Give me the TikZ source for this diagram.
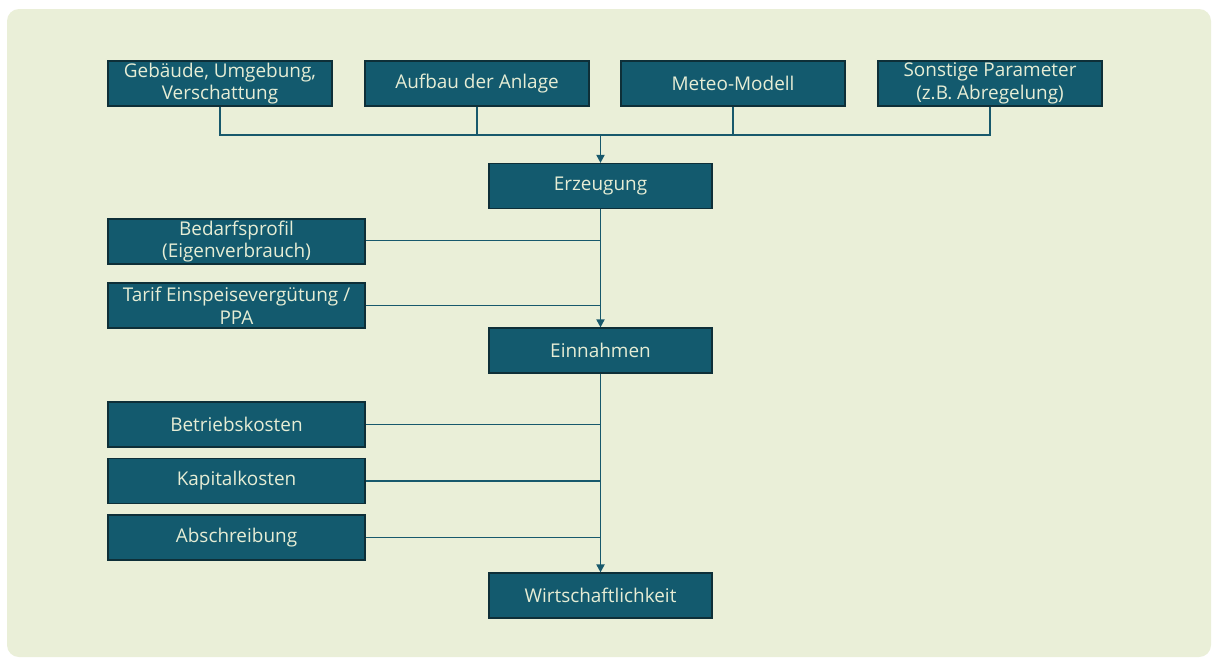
\documentclass[tikz,border=0pt]{standalone}
\usepackage{fontspec}
\setmainfont{Open Sans}
\usetikzlibrary{arrows.meta}
\definecolor{pagebg}{HTML}{EAEFD8}
\definecolor{boxfill}{HTML}{135A6E}
\definecolor{boxline}{HTML}{0E2F38}
\definecolor{boxtext}{HTML}{E6EDD5}
\definecolor{wire}{HTML}{18596C}
\tikzset{
  block/.style={draw=boxline, line width=0.9pt, fill=boxfill, text=boxtext,
    minimum height=33.75pt, inner sep=0pt, align=center,
    font=\fontsize{14.2}{17}\selectfont},
  topbox/.style={block, minimum width=168pt},
  midbox/.style={block, minimum width=167.25pt},
  sidebox/.style={block, minimum width=192.75pt},
  wireline/.style={draw=wire, line width=1.4pt},
  arr/.style={wireline, -{Triangle[length=6pt,width=6pt]}}
}
\begin{document}
\begin{tikzpicture}[x=0.75pt, y=-0.75pt]
  \useasboundingbox (0,0) rectangle (1212,658);
  \fill[white] (0,0) rectangle (1212,658);
  \fill[pagebg, rounded corners=9pt] (7,9) rectangle (1211,657);

  % input parameters
  \node[topbox] (geb) at (220,83.5) {Gebäude, Umgebung,\\Verschattung};
  \node[topbox] (auf) at (477,83.5) {Aufbau der Anlage};
  \node[topbox] (met) at (733,83.5) {Meteo-Modell};
  \node[topbox] (son) at (990,83.5) {Sonstige Parameter\\(z.B. Abregelung)};

  % main chain
  \node[midbox] (erz) at (600.5,186) {Erzeugung};
  \node[midbox] (ein) at (600.5,350.5) {Einnahmen};
  \node[midbox] (wir) at (600.5,595.5) {Wirtschaftlichkeit};

  % side inputs
  \node[sidebox] (bed) at (236.5,241.5) {Bedarfsprofil\\(Eigenverbrauch)};
  \node[sidebox] (tar) at (236.5,305.5) {Tarif Einspeisevergütung /\\PPA};
  \node[sidebox] (bet) at (236.5,424.5) {Betriebskosten};
  \node[sidebox] (kap) at (236.5,481) {Kapitalkosten};
  \node[sidebox] (abs) at (236.5,537.5) {Abschreibung};

  % collecting bus below the top row
  \coordinate (bus) at (600.5,135);
  \draw[wireline] (geb.south) |- (bus) -| (son.south);
  \draw[wireline] (auf.south) -- (auf.south |- bus);
  \draw[wireline] (met.south) -- (met.south |- bus);
  \draw[arr] (bus) -- (erz.north);

  % main flow
  \draw[arr] (erz.south) -- (ein.north);
  \draw[arr] (ein.south) -- (wir.north);

  % side feeds
  \draw[wireline] ([yshift=0.75pt]bed.east) -- ([yshift=0.75pt]bed.east -| erz.south);
  \draw[wireline] (tar.east) -- (tar.east -| erz.south);
  \draw[wireline] (bet.east) -- (bet.east -| ein.south);
  \draw[wireline] (kap.east) -- (kap.east -| ein.south);
  \draw[wireline] (abs.east) -- (abs.east -| ein.south);
\end{tikzpicture}
\end{document}
